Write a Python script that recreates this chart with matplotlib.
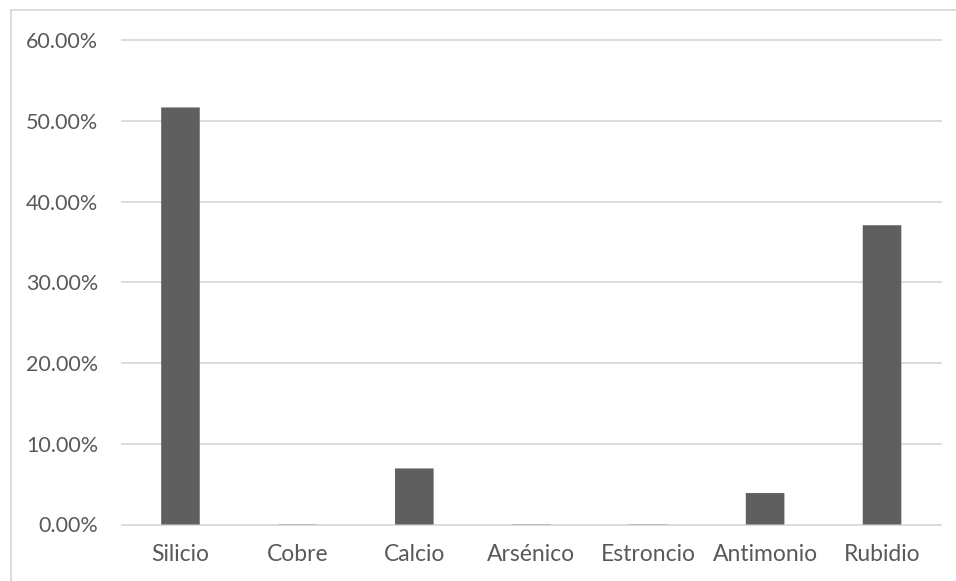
import matplotlib
matplotlib.use('Agg')
import matplotlib.pyplot as plt
from matplotlib.patches import Rectangle
from matplotlib.ticker import FuncFormatter, MultipleLocator

plt.rcParams['font.family'] = ['Lato', 'DejaVu Sans']

elementos = ['Silicio', 'Cobre', 'Calcio', 'Arsénico', 'Estroncio', 'Antimonio', 'Rubidio']
porcentajes = [0.517, 0.0003, 0.0695, 0.0003, 0.0003, 0.039, 0.371]

bar_color = '#5f5f5f'
grid_color = '#d9d9d9'
text_color = '#595959'

fig = plt.figure(figsize=(9.56, 5.81), dpi=100)
ax = fig.add_axes([122 / 956, 1 - 524.5 / 581, (940.5 - 122) / 956, (524.5 - 40.5) / 581])

bars = ax.bar(range(len(elementos)), porcentajes, width=0.33, color=bar_color, zorder=3)
for b in bars:
    b.set_snap(False)

ax.set_xlim(-0.5, len(elementos) - 0.5)
ax.set_ylim(0, 0.6)
ax.yaxis.set_major_locator(MultipleLocator(0.1))
ax.yaxis.set_major_formatter(FuncFormatter(lambda v, p: f'{v * 100:.2f}%'))
ax.set_xticks(range(len(elementos)))
ax.set_xticklabels(elementos)

ax.grid(axis='y', color=grid_color, linewidth=1.3, zorder=0)
for line in ax.get_ygridlines():
    line.set_clip_on(False)
for s in ax.spines.values():
    s.set_visible(False)
ax.tick_params(axis='both', length=0, labelcolor=text_color)
ax.tick_params(axis='y', pad=17, labelsize=15.5)
ax.tick_params(axis='x', pad=14, labelsize=16.5)

# chart area frame
fig.patches.append(Rectangle((10.5 / 956, -0.01), 1.0, 1 - 10.5 / 581 + 0.01,
                             transform=fig.transFigure, fill=False,
                             edgecolor=grid_color, linewidth=1.3, clip_on=False))

fig.savefig('out.png', dpi=100)
